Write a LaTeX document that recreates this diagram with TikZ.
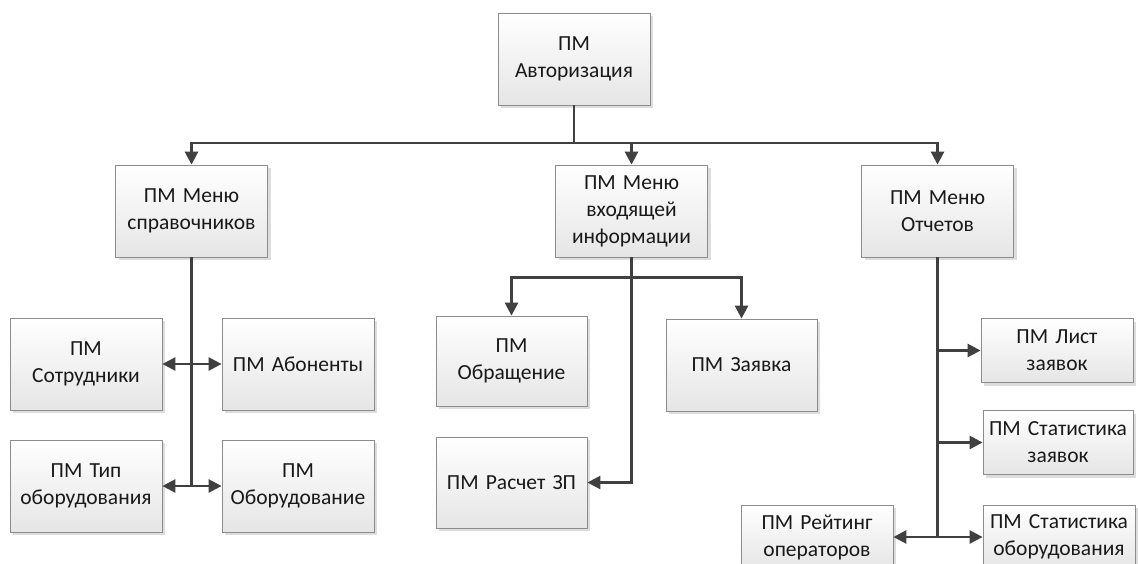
\documentclass[tikz,border=0pt]{standalone}
\usepackage{fontspec}
\setmainfont{Carlito}
\usetikzlibrary{arrows.meta,shadows,positioning,calc}
\definecolor{linkcol}{HTML}{404040}
\definecolor{boxline}{HTML}{8C8C8C}
\tikzset{
  module/.style={draw=boxline, line width=0.8pt, top color=white, bottom color=black!10,
    drop shadow={shadow xshift=3pt, shadow yshift=-3pt, fill=black!22, opacity=0.6},
    minimum width=152pt, minimum height=92pt, text width=140pt, align=center,
    inner sep=0pt, font=\fontsize{21.5}{27}\selectfont, text=black!90},
  short/.style={minimum height=64pt},
  link/.style={draw=linkcol, line width=2.6pt},
  linkarrow/.style={link, -{Triangle[length=13pt,width=13pt]}},
  linkboth/.style={link, {Triangle[length=13pt,width=13pt]}-{Triangle[length=13pt,width=13pt]}},
}
\begin{document}
\begin{tikzpicture}[x=1pt,y=-1pt]
\useasboundingbox (0,0) rectangle (1138,563);
\clip (0,0) rectangle (1138,563);
\fill[white] (0,0) rectangle (1138,563);

% top level
\node[module] (auth) at (574,59) {ПМ\\Авторизация};

% menus
\node[module] (m1) at (191.5,211) {ПМ Меню\\справочников};
\node[module] (m2) at (631.5,211) {ПМ Меню\\входящей\\информации};
\node[module] (m3) at (937.5,211) {ПМ Меню\\Отчетов};

% reference books
\node[module] (sotr) at (86,364) {ПМ\\Сотрудники};
\node[module] (abon) at (298,364) {ПМ Абоненты};
\node[module] (tip) at (86,486) {ПМ Тип\\оборудования};
\node[module] (obor) at (298,486) {ПМ\\Оборудование};

% incoming information
\node[module, minimum width=151pt, minimum height=90pt] (obr) at (511.5,361) {ПМ\\Обращение};
\node[module, minimum width=151pt] (zay) at (741.5,365) {ПМ Заявка};
\node[module, minimum width=151pt, minimum height=91pt] (zp) at (511.5,482.5) {ПМ Расчет ЗП};

% reports
\node[module, short] (list) at (1057,350.5) {ПМ Лист\\заявок};
\node[module, short, minimum width=150pt] (statz) at (1058,442.5) {ПМ Статистика\\заявок};
\node[module, short] (stato) at (1059,537) {ПМ Статистика\\оборудования};
\node[module, short] (reit) at (817,537) {ПМ Рейтинг\\операторов};

% distribution bus below the top module
\coordinate (bus) at (574,143);
\draw[link] (auth.south) -- (bus);
\draw[linkarrow] (bus) -| (m1.north);
\draw[linkarrow] (bus) -| (m2.north);
\draw[linkarrow] (bus) -| (m3.north);

% left branch
\coordinate (l2) at (m1.south |- tip.east);
\draw[link] (m1.south) -- (l2);
\draw[linkboth] (sotr.east) -- (abon.west);
\draw[linkboth] (tip.east) -- (obor.west);

% middle branch
\coordinate (c1) at ($(m2.south)+(0,20)$);
\draw[linkarrow] (c1) -| (obr.north);
\draw[linkarrow] (c1) -| (zay.north);
\draw[linkarrow] (m2.south) |- (zp.east);

% right branch
\coordinate (r3) at (m3.south |- stato.west);
\draw[link] (m3.south) -- (r3);
\draw[linkarrow] (m3.south |- list.west) -- (list.west);
\draw[linkarrow] (m3.south |- statz.west) -- (statz.west);
\draw[linkarrow] (r3) -- (stato.west);
\draw[linkarrow] (r3) -- (reit.east);
\end{tikzpicture}
\end{document}
